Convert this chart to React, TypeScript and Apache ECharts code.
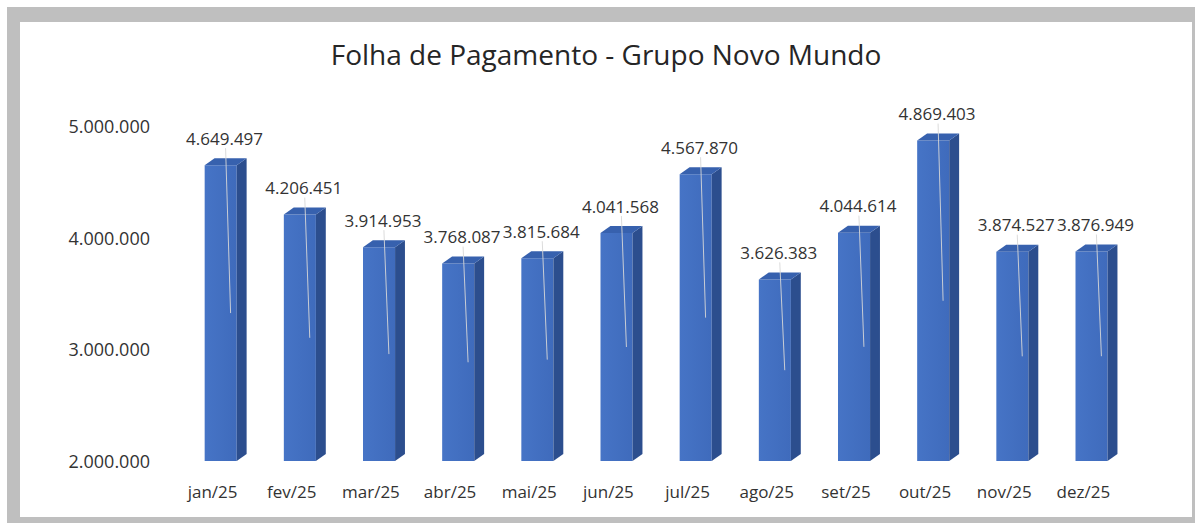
import React, { useEffect, useRef } from "react";
import * as echarts from "echarts";

const TITLE = "Folha de Pagamento - Grupo Novo Mundo";
const MONTHS = ["jan/25", "fev/25", "mar/25", "abr/25", "mai/25", "jun/25", "jul/25", "ago/25", "set/25", "out/25", "nov/25", "dez/25"];
const VALUES = [4649497, 4206451, 3914953, 3768087, 3815684, 4041568, 4567870, 3626383, 4044614, 4869403, 3874527, 3876949];
const Y_MIN = 2000000;
const Y_MAX = 5000000;
const Y_STEP = 1000000;

const FONT = "'Open Sans', 'Liberation Sans', sans-serif";
const fmt = (n: number) => String(Math.round(n)).replace(/\B(?=(\d{3})+(?!\d))/g, ".");

export default function App() {
  const ref = useRef<HTMLDivElement>(null);
  useEffect(() => {
    if (!ref.current) return;
    const chart = echarts.init(ref.current, null, { renderer: "svg" });
    chart.setOption({
      animation: false,
      backgroundColor: "#ffffff",
      title: {
        text: TITLE,
        left: "center",
        top: 13,
        textStyle: { fontFamily: FONT, fontSize: 28, fontWeight: "normal", color: "#262626" },
      },
      grid: { left: 153, right: 69, top: 104, bottom: 56 },
      xAxis: {
        type: "category",
        data: MONTHS,
        axisLine: { show: false },
        axisTick: { show: false },
        axisLabel: { interval: 0, fontFamily: FONT, fontSize: 17, color: "#333333", margin: 22 },
      },
      yAxis: {
        type: "value",
        min: Y_MIN,
        max: Y_MAX,
        interval: Y_STEP,
        axisLine: { show: false },
        axisTick: { show: false },
        splitLine: { show: false },
        axisLabel: { fontFamily: FONT, fontSize: 18, color: "#333333", margin: 23, formatter: (v: number) => fmt(v) },
      },
      series: [
        {
          type: "custom",
          data: VALUES.map((v, i) => [i, v]),
          renderItem: (params: any, api: any) => {
            const i = api.value(0);
            const v = api.value(1);
            const top = api.coord([i, v]);
            const base = api.coord([i, Y_MIN]);
            const bw = api.size([1, 0])[0];
            const cx = top[0];
            const x0 = cx - 0.1 * bw;
            const w = 0.405 * bw;
            const dx = 0.125 * bw;
            const dy = 7;
            const x1 = x0 + w;
            const yt = top[1];
            const yb = base[1];
            return {
              type: "group",
              children: [
                {
                  type: "rect",
                  shape: { x: x0, y: yt, width: w, height: yb - yt },
                  style: {
                    fill: new echarts.graphic.LinearGradient(0, 0, 1, 0, [
                      { offset: 0, color: "#4674C6" },
                      { offset: 1, color: "#3F6BBC" },
                    ]),
                  },
                },
                {
                  type: "polygon",
                  shape: { points: [[x1, yt], [x1 + dx, yt - dy], [x1 + dx, yb - dy], [x1, yb]] },
                  style: { fill: "#2C4E8E" },
                },
                {
                  type: "polygon",
                  shape: { points: [[x0, yt], [x0 + dx, yt - dy], [x1 + dx, yt - dy], [x1, yt]] },
                  style: { fill: "#3761AE" },
                },
                {
                  type: "line",
                  shape: { x1: cx + 13, y1: yt - 17, x2: cx + 18, y2: (yt + yb) / 2 },
                  style: { stroke: "rgba(215,215,215,0.9)", lineWidth: 1 },
                },
                {
                  type: "text",
                  style: {
                    text: fmt(v),
                    x: cx + 12,
                    y: yt - 27,
                    align: "center",
                    verticalAlign: "middle",
                    fontFamily: FONT,
                    fontSize: 17,
                    fill: "#333333",
                  },
                },
              ],
            };
          },
        },
      ],
    });
    return () => chart.dispose();
  }, []);

  return (
    <div style={{ position: "fixed", left: 0, top: 0, width: 1195, height: 523, background: "#ffffff" }}>
      <div style={{ position: "absolute", left: 7, top: 7, width: 1188, height: 516, background: "#bfbfbf" }} />
      <div ref={ref} style={{ position: "absolute", left: 20, top: 22, width: 1172, height: 495, background: "#ffffff" }} />
    </div>
  );
}
